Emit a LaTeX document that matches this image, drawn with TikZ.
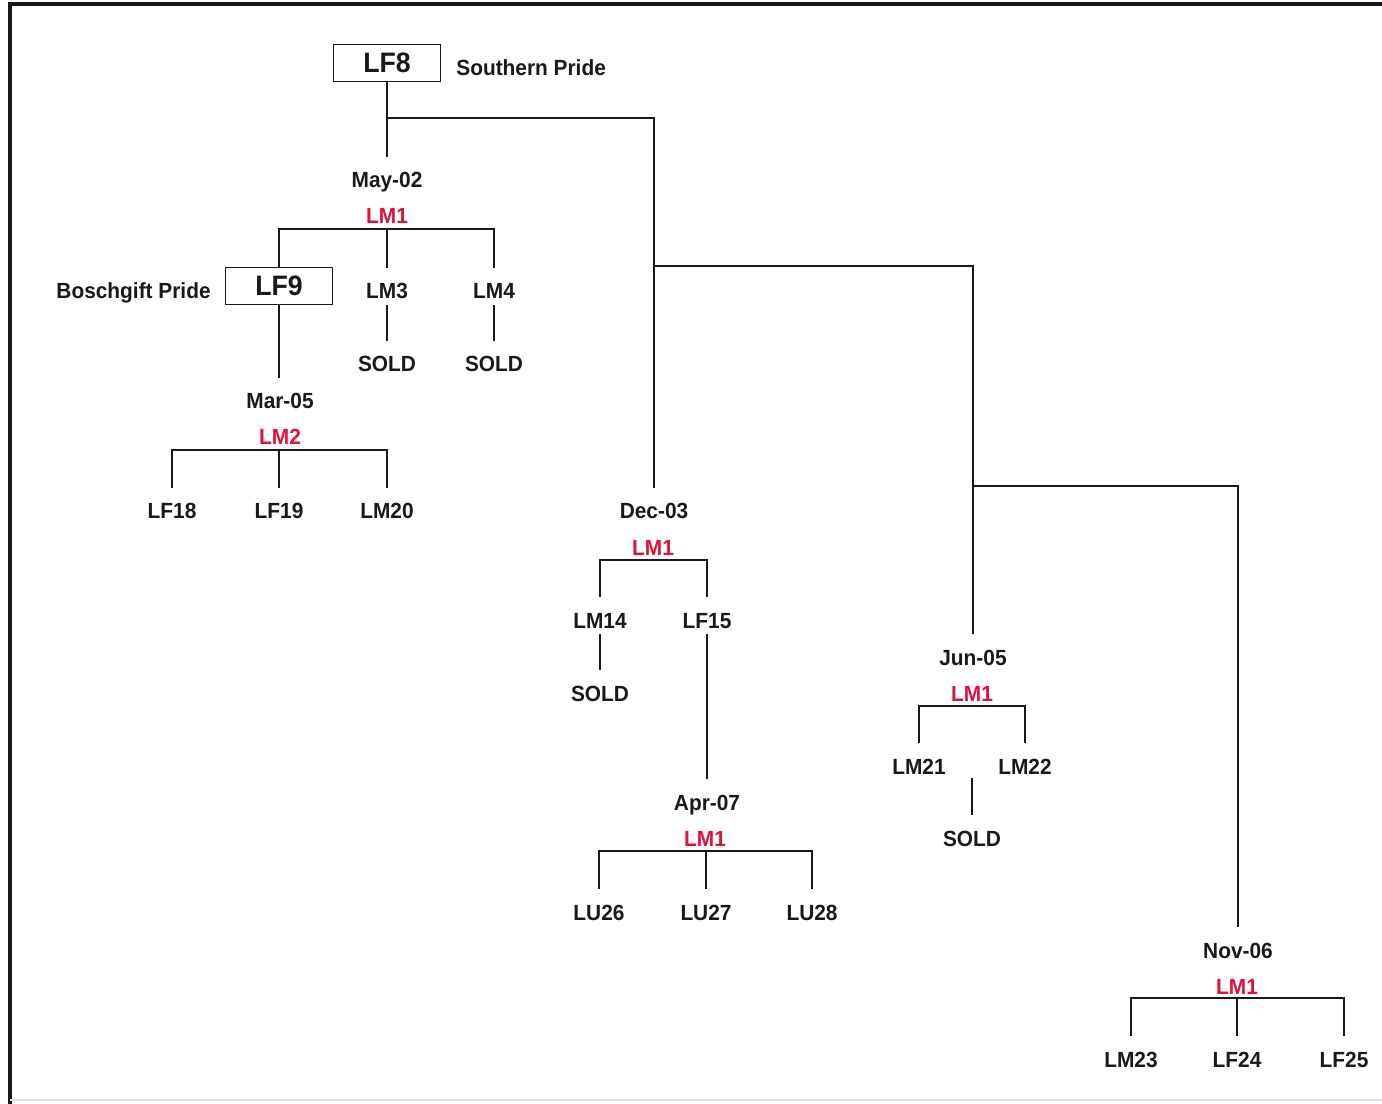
\documentclass[tikz,border=0pt]{standalone}
\usepackage{fontspec}
\setmainfont{Liberation Sans}[FakeStretch=0.95]
\definecolor{lmred}{RGB}{226,16,58}
\definecolor{ink}{RGB}{25,25,25}
\begin{document}
\begin{tikzpicture}[x=0.02cm,y=-0.02cm,
  every node/.style={font=\fontsize{12.5}{14}\bfseries\selectfont, text=ink},
  t/.style={inner sep=0pt, text height=0.62cm, text depth=0.12cm, anchor=base},
  red/.style={inner sep=0pt, anchor=base, text=lmred},
  boxnode/.style={draw=ink, line width=1pt, minimum width=2.14cm, minimum height=0.74cm, inner sep=0pt,
                  font=\fontsize{16}{18}\bfseries\selectfont},
  note/.style={inner sep=0pt},
  ln/.style={draw=ink, line width=1pt}]
\useasboundingbox (0,0) rectangle (1382,1104);
% frame
\draw[line width=1.9pt, ink] (1382,4) -- (10,4) -- (10,1104);
\draw[line width=1pt, black!12] (10,1100) -- (1382,1100);

% root
\node[boxnode] (lf8) at (387,63) {LF8};
\node[note, anchor=base west] (sp) at (456,76) {Southern Pride};
\node[t] (may02) at (387,188) {May-02};
\node[red] (r1) at (387,224) {LM1};
\coordinate (b1) at (387,229);
\node[boxnode] (lf9) at (279,286) {LF9};
\node[note, anchor=base east] (bp) at (211,299) {Boschgift Pride};
\node[t] (lm3) at (387,299) {LM3};
\node[t] (lm4) at (494,299) {LM4};
\node[t] (sold1) at (387,372) {SOLD};
\node[t] (sold2) at (494,372) {SOLD};
\node[t] (mar05) at (280,409) {Mar-05};
\node[red] (r2) at (280,445) {LM2};
\coordinate (b2) at (280,450);
\node[t] (lf18) at (172,519) {LF18};
\node[t] (lf19) at (279,519) {LF19};
\node[t] (lm20) at (387,519) {LM20};

% spine
\coordinate (j1) at (387,118);
\coordinate (j2) at (654,266);
\coordinate (j3) at (973,486);

% Dec-03
\node[t] (dec03) at (654,519) {Dec-03};
\node[red] (r3) at (653,555) {LM1};
\coordinate (b3) at (653,560);
\node[t] (lm14) at (600,628) {LM14};
\node[t] (lf15) at (707,628) {LF15};
\node[t] (sold3) at (600,701) {SOLD};
\node[t] (apr07) at (707,810) {Apr-07};
\node[red] (r4) at (705,846) {LM1};
\coordinate (b4) at (706,851);
\node[t] (lu26) at (599,920) {LU26};
\node[t] (lu27) at (706,920) {LU27};
\node[t] (lu28) at (812,920) {LU28};

% Jun-05
\node[t] (jun05) at (973,665) {Jun-05};
\node[red] (r5) at (972,701) {LM1};
\coordinate (b5) at (972,706);
\node[t] (lm21) at (919,774) {LM21};
\node[t] (lm22) at (1025,774) {LM22};
\node[t] (sold4) at (972,846) {SOLD};
\coordinate (s4top) at (972,778);

% Nov-06
\node[t] (nov06) at (1238,958) {Nov-06};
\node[red] (r6) at (1237,994) {LM1};
\coordinate (b6) at (1237,998);
\node[t] (lm23) at (1131,1067) {LM23};
\node[t] (lf24) at (1237,1067) {LF24};
\node[t] (lf25) at (1344,1067) {LF25};

% connectors
\draw[ln] (lf8.south) -- (may02.north);
\draw[ln] (j1) -| (dec03.north);
\draw[ln] (j2) -| (jun05.north);
\draw[ln] (j3) -| (nov06.north);

\draw[ln] (lf9.north) -- (lf9.north |- b1) -- (lm4.north |- b1) -- (lm4.north);
\draw[ln] (lm3.north |- b1) -- (lm3.north);
\draw[ln] (lm3.south) -- (sold1.north);
\draw[ln] (lm4.south) -- (sold2.north);
\draw[ln] (lf9.south) -- (lf9.south |- mar05.north);

\draw[ln] (lf18.north) -- (lf18.north |- b2) -- (lm20.north |- b2) -- (lm20.north);
\draw[ln] (lf19.north |- b2) -- (lf19.north);

\draw[ln] (lm14.north) -- (lm14.north |- b3) -- (lf15.north |- b3) -- (lf15.north);
\draw[ln] (lm14.south) -- (sold3.north);
\draw[ln] (lf15.south) -- (apr07.north);

\draw[ln] (lu26.north) -- (lu26.north |- b4) -- (lu28.north |- b4) -- (lu28.north);
\draw[ln] (lu27.north |- b4) -- (lu27.north);

\draw[ln] (lm21.north) -- (lm21.north |- b5) -- (lm22.north |- b5) -- (lm22.north);
\draw[ln] (s4top) -- (sold4.north);

\draw[ln] (lm23.north) -- (lm23.north |- b6) -- (lf25.north |- b6) -- (lf25.north);
\draw[ln] (lf24.north |- b6) -- (lf24.north);
\end{tikzpicture}
\end{document}
